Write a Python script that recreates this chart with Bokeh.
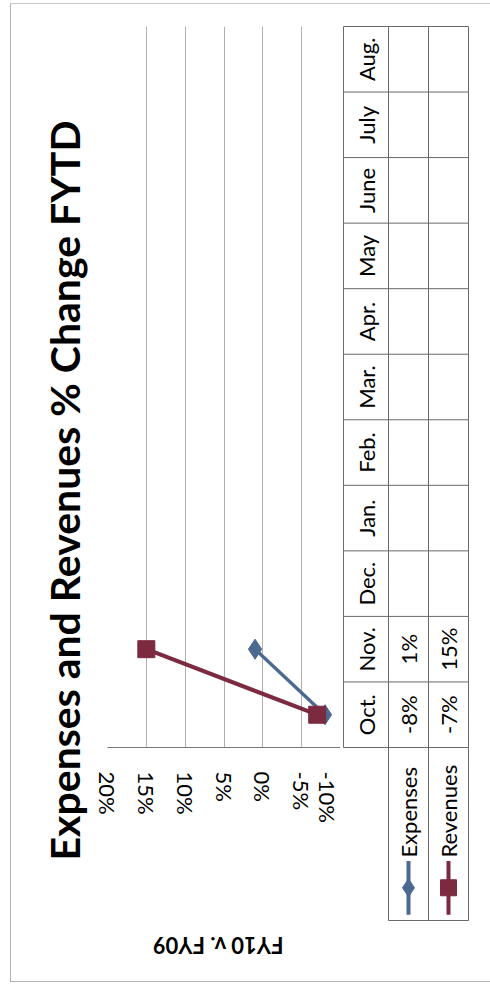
import math
from bokeh.plotting import figure
from bokeh.models import (Range1d, FactorRange, FixedTicker, PrintfTickFormatter,
                          ColumnDataSource, Title, InlineStyleSheet)
from bokeh.layouts import row, column
from bokeh.embed import file_html
from bokeh.resources import INLINE
from bokeh.core.properties import value

# ---------------- data ----------------
months = ["Oct.", "Nov.", "Dec.", "Jan.", "Feb.", "Mar.", "Apr.", "May", "June", "July", "Aug."]
expenses = [-8, 1]      # FYTD % change, reported months only
revenues = [-7, 15]
pct_ticks = [20, 15, 10, 5, 0, -5, -10]
series_names = ["Expenses", "Revenues"]
title_text = "Expenses and Revenues % Change FYTD"
axis_title = "FY10 v. FY09"

# ---------------- style ----------------
FONT = "Lato"
BLUE = "#4c6a8f"
RED = "#7c2a40"
GRID = "#b0b0b0"
TLINE = "#6a6a6a"
ROT = math.pi / 2
TXT = "22px"

H = 990
FR_TOP, FR_BOT = 26, 747          # chart plot-area top / bottom (screen px)
ROW_PX = (FR_BOT - FR_TOP) / len(months)
HA = 880                          # height of chart figure; axis-title strip below


def no_align(p):
    try:
        p.frame_align = False
    except Exception:
        pass


# ---------------- chart figure ----------------
x_rng = Range1d(20, -10)
pA = figure(width=340, height=HA, x_range=x_rng, y_range=FactorRange(*months),
            output_backend="svg", toolbar_location=None, y_axis_location=None,
            min_border_left=107, min_border_right=0, min_border_top=FR_TOP,
            min_border_bottom=HA - FR_BOT)
no_align(pA)
pA.outline_line_color = None

ax = pA.xaxis[0]
ax.ticker = FixedTicker(ticks=pct_ticks)
ax.formatter = PrintfTickFormatter(format="%d%%")
ax.major_label_orientation = "vertical"
ax.major_label_text_font = FONT
ax.major_label_text_font_size = TXT
ax.major_label_text_color = "black"
ax.major_label_standoff = 18
ax.major_tick_line_color = None
ax.minor_tick_line_color = None
ax.axis_line_color = "#777777"

pA.xgrid.grid_line_color = GRID
pA.ygrid.grid_line_color = None

src_e = ColumnDataSource(dict(x=expenses, y=months[:len(expenses)]))
src_r = ColumnDataSource(dict(x=revenues, y=months[:len(revenues)]))
pA.line("x", "y", source=src_e, line_color=BLUE, line_width=3.5)
pA.scatter("x", "y", source=src_e, marker="diamond", size=20, color=BLUE)
pA.line("x", "y", source=src_r, line_color=RED, line_width=4)
pA.scatter("x", "y", source=src_r, marker="square", size=17, color=RED)

pA.add_layout(Title(text=title_text, align="left", offset=-113, standoff=37,
                    text_font=FONT, text_font_style="bold", text_font_size="41px",
                    text_color="black"), "left")

# ---------------- value-axis title strip (upside down, as in the rotated original) ----------------
HC = H - HA
pC = figure(width=340, height=HC, x_range=x_rng, y_range=Range1d(0, HC),
            output_backend="svg", toolbar_location=None,
            x_axis_location=None, y_axis_location=None,
            min_border_left=107, min_border_right=0, min_border_top=0, min_border_bottom=0)
no_align(pC)
pC.outline_line_color = None
pC.xgrid.grid_line_color = None
pC.ygrid.grid_line_color = None
pC.text(x=[5.8], y=[HC - (945 - HA)], text=[axis_title], angle=math.pi,
        text_align="center", text_baseline="middle", text_font=value(FONT),
        text_font_style="bold", text_font_size="22px", text_color="black")

# ---------------- data table figure ----------------
COLS = [0, 45, 85, 125]                  # column edges in table units
LEG_ROWS = (920 - FR_BOT) / ROW_PX       # legend cell height in rows
B_TOP, B_BOT = 22, 928
ymax = len(months) + (FR_TOP - B_TOP) / ROW_PX
ymin = -LEG_ROWS - (B_BOT - 920) / ROW_PX
pB = figure(width=150, height=H, x_range=Range1d(-3, 127), y_range=Range1d(ymin, ymax),
            output_backend="svg", toolbar_location=None,
            x_axis_location=None, y_axis_location=None,
            min_border_left=0, min_border_right=20, min_border_top=B_TOP,
            min_border_bottom=H - B_BOT)
no_align(pB)
pB.outline_line_color = None
pB.xgrid.grid_line_color = None
pB.ygrid.grid_line_color = None

n = len(months)
pB.segment(x0=[COLS[0]] * (n + 1), x1=[COLS[-1]] * (n + 1),
           y0=list(range(n + 1)), y1=list(range(n + 1)), line_color=TLINE, line_width=1)
pB.segment(x0=[COLS[0]], x1=[COLS[0]], y0=[0], y1=[n], line_color=TLINE, line_width=1)
pB.segment(x0=COLS[1:], x1=COLS[1:], y0=[-LEG_ROWS] * 3, y1=[n] * 3, line_color=TLINE, line_width=1)
pB.segment(x0=[COLS[1]], x1=[COLS[-1]], y0=[-LEG_ROWS], y1=[-LEG_ROWS], line_color=TLINE, line_width=1)

mid = [(COLS[i] + COLS[i + 1]) / 2 for i in range(3)]
pB.text(x=[mid[0]] * n, y=[i + 0.5 for i in range(n)], text=months, angle=ROT,
        text_align="center", text_baseline="middle", text_font=value(FONT),
        text_font_size=TXT, text_color="black")
for col, vals in ((1, expenses), (2, revenues)):
    pB.text(x=[mid[col]] * len(vals), y=[i + 0.5 for i in range(len(vals))],
            text=[f"{v}%" for v in vals], angle=ROT, text_align="center",
            text_baseline="middle", text_font=value(FONT), text_font_size=TXT,
            text_color="black")

for col, name, color, mk, sz in ((1, series_names[0], BLUE, "diamond", 18),
                                 (2, series_names[1], RED, "square", 16)):
    pB.segment(x0=[mid[col]], x1=[mid[col]], y0=[-2.55], y1=[-1.73], line_color=color, line_width=4)
    pB.scatter(x=[mid[col]], y=[-2.14], marker=mk, size=sz, color=color)
    pB.text(x=[mid[col]], y=[-1.68], text=[name], angle=ROT, text_align="left",
            text_baseline="middle", text_font=value(FONT), text_font_size=TXT,
            text_color="black")

frame_css = InlineStyleSheet(css="""
:host { position: relative; }
:host::after { content: ""; position: absolute; left: 10px; top: 3px; width: 480px;
  height: 979px; box-sizing: border-box; border-left: 1px solid #b4b4b4;
  border-top: 1px solid #c8c8c8; border-bottom: 1px solid #b4b4b4;
  pointer-events: none; z-index: 5; }
""")
layout = row(column(pA, pC), pB, stylesheets=[frame_css])
open("out.html", "w").write(file_html(layout, INLINE))
